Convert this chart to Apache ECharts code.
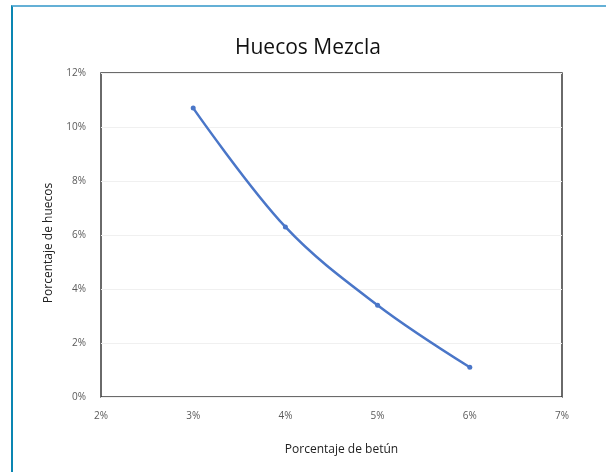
<!DOCTYPE html>
<html>
<head>
<meta charset="utf-8">
<script src="https://cdn.jsdelivr.net/npm/echarts@6/dist/echarts.min.js"></script>
<style>
html,body{margin:0;padding:0;background:#fff;}
#frame{position:absolute;left:11px;top:5px;width:595px;height:467px;border-left:2px solid #0a86b2;border-top:2px solid #64b0d6;box-sizing:border-box;}
#chart{position:absolute;left:0;top:0;width:606px;height:472px;}
</style>
</head>
<body>
<div id="chart"></div>
<div id="frame"></div>
<script>
const titleText = 'Huecos Mezcla';
const xName = 'Porcentaje de betún';
const yName = 'Porcentaje de huecos';
const betun = [3, 4, 5, 6];
const huecos = [10.7, 6.3, 3.4, 1.1];

const chart = echarts.init(document.getElementById('chart'), null, {renderer: 'canvas'});
chart.setOption({
  animation: false,
  title: {
    text: titleText, left: 230, top: 33,
    textStyle: {fontFamily: 'Open Sans', fontSize: 21, fontWeight: 'normal', color: '#111'}
  },
  grid: {
    left: 101, right: 44, top: 73, bottom: 75,
    show: true, borderColor: '#3a3a3a', borderWidth: 1.5, backgroundColor: 'transparent'
  },
  xAxis: {
    type: 'value', min: 2, max: 7, interval: 1,
    name: xName, nameLocation: 'middle', nameGap: 47,
    nameTextStyle: {fontFamily: 'Open Sans', fontSize: 12, color: '#222', padding: [0, 0, 0, 20]},
    axisLine: {show: false}, axisTick: {show: false}, splitLine: {show: false},
    axisLabel: {formatter: '{value}%', margin: 14, fontFamily: 'Open Sans', fontSize: 10, color: '#5a5a5a'}
  },
  yAxis: {
    type: 'value', min: 0, max: 12, interval: 2,
    name: yName, nameLocation: 'middle', nameGap: 46,
    nameTextStyle: {fontFamily: 'Open Sans', fontSize: 12, color: '#222', padding: [0, 16, 0, 0]},
    axisLine: {show: false}, axisTick: {show: false},
    splitLine: {show: true, lineStyle: {color: '#f0f0f0', width: 1}},
    axisLabel: {formatter: '{value}%', margin: 15, fontFamily: 'Open Sans', fontSize: 10, color: '#5a5a5a'}
  },
  series: [{
    type: 'line',
    data: betun.map((b, i) => [b, huecos[i]]),
    smooth: 0.35,
    symbol: 'circle', symbolSize: 5,
    lineStyle: {color: '#4a76c8', width: 2.5},
    itemStyle: {color: '#4a76c8'}
  }]
});
</script>
</body>
</html>
